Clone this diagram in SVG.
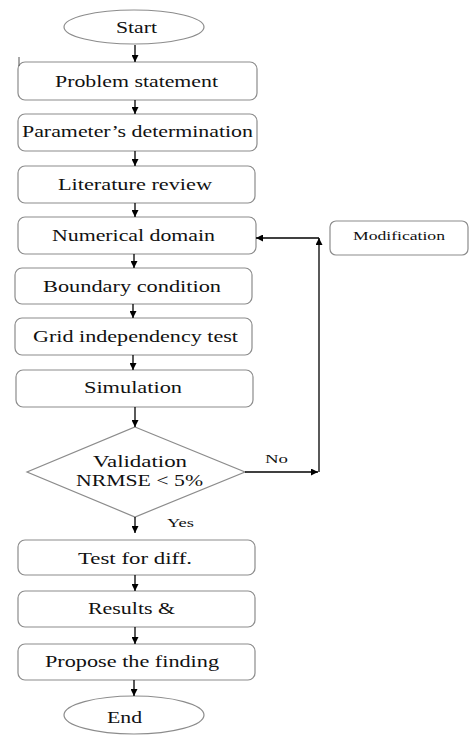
<svg xmlns="http://www.w3.org/2000/svg" width="469" height="735" viewBox="0 0 469 735">
<defs>
<marker id="ah" viewBox="0 0 10 10" refX="10" refY="5" markerWidth="7" markerHeight="7" markerUnits="userSpaceOnUse" orient="auto">
<path d="M0,0 L10,5 L0,10 z" fill="#000"/>
</marker>
<style>
.box{fill:#fff;stroke:#8c8c8c;stroke-width:1.2}
.t{font-size:16px;fill:#111}
.s{font-size:13px;fill:#111}
.c{stroke:#000;stroke-width:1.3;fill:none;marker-end:url(#ah)}
</style>
</defs>
<rect width="469" height="735" fill="#fff"/>
<g font-family="Liberation Serif, serif">
<g id="start"><ellipse class="box" cx="134" cy="27" rx="70" ry="17"/><text class="t" x="116" y="33" textLength="41" lengthAdjust="spacingAndGlyphs">Start</text></g>
<g id="problem"><rect class="box" x="18" y="62" width="239" height="38" rx="7"/><line x1="19" y1="57" x2="19" y2="66" stroke="#555" stroke-width="1"/><text class="t" x="55" y="87" textLength="163" lengthAdjust="spacingAndGlyphs">Problem statement</text></g>
<g id="parameter"><rect class="box" x="18" y="114" width="239" height="37" rx="7"/><text class="t" x="22" y="137" textLength="231" lengthAdjust="spacingAndGlyphs">Parameter’s determination</text></g>
<g id="literature"><rect class="box" x="18" y="166" width="237" height="37" rx="7"/><text class="t" x="58" y="190" textLength="154" lengthAdjust="spacingAndGlyphs">Literature review</text></g>
<g id="numerical"><rect class="box" x="18" y="217" width="238" height="37" rx="7"/><text class="t" x="52" y="241" textLength="163" lengthAdjust="spacingAndGlyphs">Numerical domain</text></g>
<g id="modification"><rect class="box" x="330" y="221" width="138" height="34" rx="6"/><text class="s" x="353" y="240" textLength="92" lengthAdjust="spacingAndGlyphs" font-size="12">Modification</text></g>
<g id="boundary"><rect class="box" x="15" y="268" width="237" height="36" rx="7"/><text class="t" x="43" y="292" textLength="178" lengthAdjust="spacingAndGlyphs">Boundary condition</text></g>
<g id="grid"><rect class="box" x="15" y="318" width="237" height="37" rx="7"/><text class="t" x="33" y="342" textLength="205" lengthAdjust="spacingAndGlyphs">Grid independency test</text></g>
<g id="simulation"><rect class="box" x="16" y="370" width="237" height="37" rx="7"/><text class="t" x="84" y="393" textLength="98" lengthAdjust="spacingAndGlyphs">Simulation</text></g>
<g id="validation"><polygon class="box" points="135,427 245,472 135,517 27,472"/><text class="t" x="93" y="467" textLength="94" lengthAdjust="spacingAndGlyphs">Validation</text><text class="t" x="76" y="486" textLength="127" lengthAdjust="spacingAndGlyphs">NRMSE &lt; 5%</text></g>
<g id="test"><rect class="box" x="18" y="540" width="237" height="35" rx="7"/><text class="t" x="78" y="564" textLength="114" lengthAdjust="spacingAndGlyphs">Test for diff.</text></g>
<g id="results"><rect class="box" x="18" y="591" width="237" height="36" rx="7"/><text class="t" x="88" y="614" textLength="87" lengthAdjust="spacingAndGlyphs">Results &amp;</text></g>
<g id="propose"><rect class="box" x="18" y="644" width="237" height="36" rx="7"/><text class="t" x="45" y="667" textLength="174" lengthAdjust="spacingAndGlyphs">Propose the finding</text></g>
<g id="end"><ellipse class="box" cx="134" cy="715" rx="70" ry="19"/><text class="t" x="107" y="723" textLength="35" lengthAdjust="spacingAndGlyphs">End</text></g>
<g id="connectors">
<line class="c" x1="135" y1="45" x2="135" y2="62"/>
<line class="c" x1="135" y1="100" x2="135" y2="114"/>
<line class="c" x1="135" y1="151" x2="135" y2="166"/>
<line class="c" x1="135" y1="203" x2="135" y2="217"/>
<line class="c" x1="134" y1="254" x2="134" y2="268"/>
<line class="c" x1="133" y1="304" x2="133" y2="318"/>
<line class="c" x1="133" y1="355" x2="133" y2="370"/>
<line class="c" x1="135" y1="407" x2="135" y2="427"/>
<line class="c" x1="135" y1="517" x2="135" y2="533"/>
<line class="c" x1="135" y1="575" x2="135" y2="591"/>
<line class="c" x1="135" y1="627" x2="135" y2="644"/>
<line class="c" x1="134" y1="680" x2="134" y2="696"/>
<line class="c" x1="245" y1="472" x2="318" y2="472"/>
<line class="c" x1="319" y1="472" x2="319" y2="238"/>
<line class="c" x1="319" y1="238" x2="256" y2="238"/>
<text class="s" x="265" y="463" textLength="23" lengthAdjust="spacingAndGlyphs">No</text>
<text class="s" x="167" y="527" textLength="27" lengthAdjust="spacingAndGlyphs">Yes</text>
</g>
</g>
</svg>
